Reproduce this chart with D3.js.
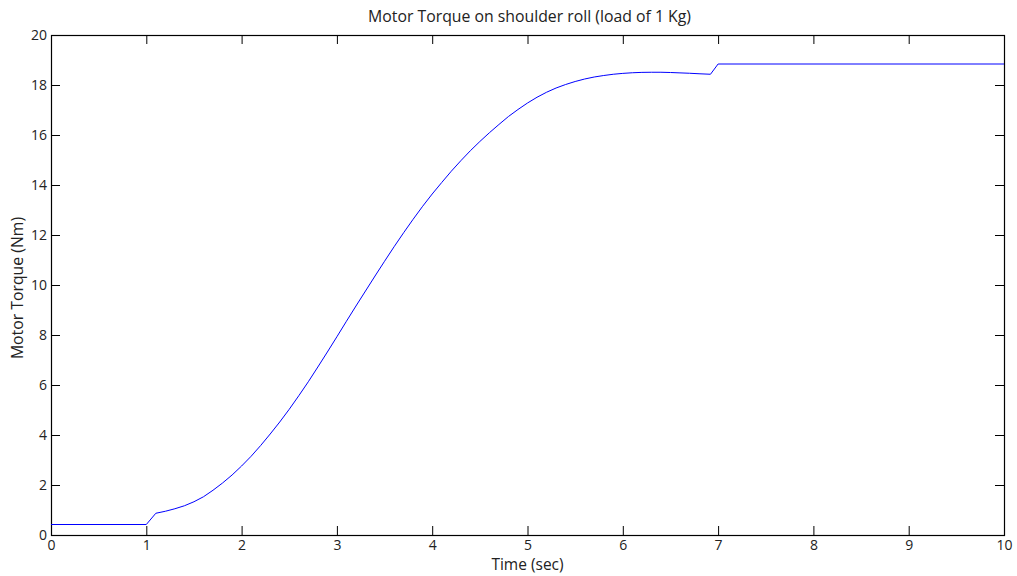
<!DOCTYPE html>
<html><head><meta charset="utf-8">
<script src="https://cdn.jsdelivr.net/npm/d3@7"></script>
<style>body{margin:0;background:#fff}svg{display:block}text{font-family:"Open Sans","Liberation Sans",Arial,sans-serif;fill:#222}</style>
</head><body><svg id="c" width="1017" height="576"></svg>
<script>
const timeSec = [0,1.0,1.1,1.2,1.3,1.4,1.5,1.6,1.7,1.8,1.9,2.0,2.1,2.2,2.3,2.4,2.5,2.6,2.7,2.8,2.9,3.0,3.1,3.2,3.3,3.4,3.5,3.6,3.7,3.8,3.9,4.0,4.1,4.2,4.3,4.4,4.5,4.6,4.7,4.8,4.9,5.0,5.1,5.2,5.3,5.4,5.5,5.6,5.7,5.8,5.9,6.0,6.1,6.2,6.3,6.4,6.5,6.6,6.7,6.8,6.92,7.0,10];
const torqueNm = [0.42,0.42,0.87,0.95,1.05,1.17,1.33,1.53,1.79,2.08,2.40,2.76,3.15,3.58,4.04,4.52,5.03,5.57,6.13,6.72,7.32,7.93,8.55,9.16,9.76,10.36,10.95,11.53,12.09,12.63,13.15,13.64,14.10,14.55,14.97,15.37,15.74,16.09,16.42,16.74,17.02,17.28,17.51,17.71,17.88,18.02,18.14,18.24,18.32,18.38,18.43,18.465,18.49,18.505,18.51,18.51,18.50,18.485,18.47,18.45,18.43,18.84,18.84];
const xTicks = [0,1,2,3,4,5,6,7,8,9,10];
const yTicks = [0,2,4,6,8,10,12,14,16,18,20];
const title = "Motor Torque on shoulder roll (load of 1 Kg)";
const xLabel = "Time (sec)";
const yLabel = "Motor Torque (Nm)";

const svg = d3.select("#c");
const L=51, R=1004, T=35, B=535;
const x = d3.scaleLinear().domain([0,10]).range([L,R]);
const y = d3.scaleLinear().domain([0,20]).range([B,T]);
const data = timeSec.map((t,i)=>({t, v: torqueNm[i]}));

const tl = 9;
const FF = "Open Sans, Liberation Sans, Arial, sans-serif";
function style(g){ g.select(".domain").remove(); g.selectAll("line").attr("stroke","#000"); g.selectAll("text").attr("font-size",14).attr("fill","#222").style("font-family",FF); }
svg.append("g").attr("transform",`translate(0,${B})`).call(d3.axisBottom(x).tickValues(xTicks).tickSize(-tl).tickPadding(5).tickFormat(d3.format("d"))).call(style);
svg.append("g").attr("transform",`translate(0,${T})`).call(d3.axisTop(x).tickValues(xTicks).tickSize(-tl).tickFormat("")).call(style);
svg.append("g").attr("transform",`translate(${L},0)`).call(d3.axisLeft(y).tickValues(yTicks).tickSize(-tl).tickPadding(4).tickFormat(d3.format("d"))).call(style);
svg.append("g").attr("transform",`translate(${R},0)`).call(d3.axisRight(y).tickValues(yTicks).tickSize(-tl).tickFormat("")).call(style);
svg.append("rect").attr("x",L+0.5).attr("y",T+0.5).attr("width",R-L).attr("height",B-T).attr("fill","none").attr("stroke","#000").attr("stroke-width",1.2);

svg.append("path").datum(data).attr("fill","none").attr("stroke","#0000ff").attr("stroke-width",1)
  .attr("d", d3.line().x(d=>x(d.t)).y(d=>y(d.v)));

svg.append("text").attr("x",(L+R)/2+2).attr("y",22).attr("text-anchor","middle").attr("font-size",15.8).text(title);
svg.append("text").attr("x",(L+R)/2).attr("y",570).attr("text-anchor","middle").attr("font-size",15.5).text(xLabel);
svg.append("text").attr("transform",`translate(23,288) rotate(-90)`).attr("text-anchor","middle").attr("font-size",15.8).text(yLabel);
</script></body></html>
